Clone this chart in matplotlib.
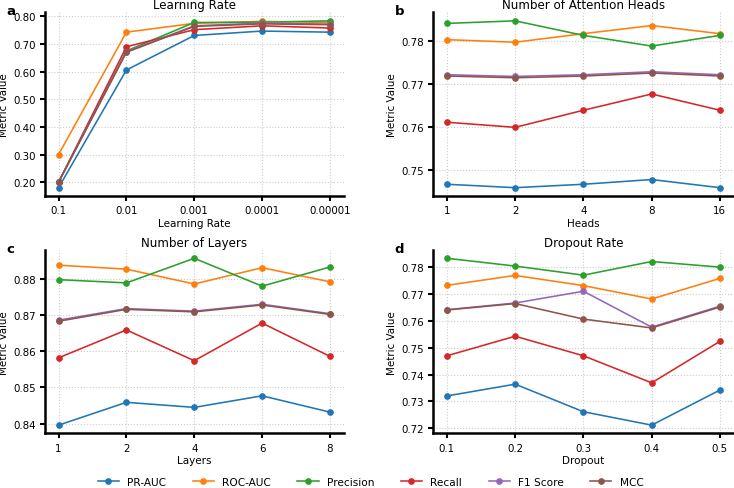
import matplotlib
matplotlib.use("Agg")
import matplotlib.pyplot as plt
from matplotlib.ticker import FormatStrFormatter

metrics = ["PR-AUC", "ROC-AUC", "Precision", "Recall", "F1 Score", "MCC"]
colors = ["#1f77b4", "#ff7f0e", "#2ca02c", "#d62728", "#9467bd", "#8c564b"]

lr_labels = ["0.1", "0.01", "0.001", "0.0001", "0.00001"]
lr_pr = [0.18, 0.606, 0.731, 0.747, 0.743]
lr_roc = [0.30, 0.743, 0.775, 0.782, 0.778]
lr_prec = [0.20, 0.675, 0.778, 0.779, 0.784]
lr_rec = [0.20, 0.690, 0.752, 0.766, 0.758]
lr_f1 = [0.20, 0.672, 0.766, 0.776, 0.772]
lr_mcc = [0.20, 0.670, 0.764, 0.773, 0.770]

head_labels = ["1", "2", "4", "8", "16"]
hd_pr = [0.7466, 0.7458, 0.7466, 0.7477, 0.7458]
hd_roc = [0.7804, 0.7798, 0.7818, 0.7837, 0.7818]
hd_prec = [0.7842, 0.7848, 0.7814, 0.7789, 0.7814]
hd_rec = [0.7611, 0.7599, 0.7639, 0.7677, 0.7639]
hd_f1 = [0.7722, 0.7718, 0.7722, 0.7729, 0.7722]
hd_mcc = [0.7719, 0.7715, 0.7719, 0.7726, 0.7719]

layer_labels = ["1", "2", "4", "6", "8"]
ly_pr = [0.8396, 0.8459, 0.8445, 0.8477, 0.8432]
ly_roc = [0.8838, 0.8827, 0.8786, 0.8831, 0.8792]
ly_prec = [0.8798, 0.8789, 0.8857, 0.8780, 0.8833]
ly_rec = [0.8582, 0.8659, 0.8574, 0.8678, 0.8586]
ly_f1 = [0.8686, 0.8718, 0.8711, 0.8730, 0.8704]
ly_mcc = [0.8683, 0.8716, 0.8709, 0.8728, 0.8702]

drop_labels = ["0.1", "0.2", "0.3", "0.4", "0.5"]
dr_pr = [0.7320, 0.7364, 0.7261, 0.7211, 0.7342]
dr_roc = [0.7733, 0.7770, 0.7732, 0.7682, 0.7759]
dr_prec = [0.7834, 0.7805, 0.7771, 0.7822, 0.7801]
dr_rec = [0.7470, 0.7543, 0.7470, 0.7369, 0.7524]
dr_f1 = [0.7642, 0.7667, 0.7711, 0.7577, 0.7655]
dr_mcc = [0.7641, 0.7665, 0.7607, 0.7574, 0.7652]

panels = [
    ("a", "Learning Rate", "Learning Rate", lr_labels,
     [lr_pr, lr_roc, lr_prec, lr_rec, lr_f1, lr_mcc], [0.2, 0.3, 0.4, 0.5, 0.6, 0.7, 0.8]),
    ("b", "Number of Attention Heads", "Heads", head_labels,
     [hd_pr, hd_roc, hd_prec, hd_rec, hd_f1, hd_mcc], [0.75, 0.76, 0.77, 0.78]),
    ("c", "Number of Layers", "Layers", layer_labels,
     [ly_pr, ly_roc, ly_prec, ly_rec, ly_f1, ly_mcc], [0.84, 0.85, 0.86, 0.87, 0.88]),
    ("d", "Dropout Rate", "Dropout", drop_labels,
     [dr_pr, dr_roc, dr_prec, dr_rec, dr_f1, dr_mcc], [0.72, 0.73, 0.74, 0.75, 0.76, 0.77, 0.78]),
]

plt.rcParams['font.family'] = ['DejaVu Sans']
fig = plt.figure(figsize=(7.34, 4.89), dpi=100)
positions = [
    [0.0613, 0.5971, 0.4067, 0.3753],
    [0.5903, 0.5971, 0.4091, 0.3753],
    [0.0613, 0.1115, 0.4067, 0.3753],
    [0.5903, 0.1115, 0.4091, 0.3753],
]

handles = []
for i, (lab, title, xlabel, xt, series, yt) in enumerate(panels):
    ax = fig.add_axes(positions[i])
    xs = list(range(len(xt)))
    for j, vals in enumerate(series):
        h, = ax.plot(xs, vals, color=colors[j], marker="o", markersize=3.8,
                     linewidth=1.15, label=metrics[j])
        if i == 0:
            handles.append(h)
    ax.set_xticks(xs)
    ax.set_xticklabels(xt)
    ax.set_yticks(yt)
    ax.yaxis.set_major_formatter(FormatStrFormatter("%.2f"))
    ax.set_title(title, fontsize=8.6, pad=3)
    ax.set_xlabel(xlabel, fontsize=7.5, labelpad=2)
    ax.set_ylabel("Metric Value", fontsize=7.4, labelpad=3)
    ax.tick_params(axis="both", labelsize=7.4, width=1.5, length=3.5, direction="out", pad=3)
    for s in ["top", "right"]:
        ax.spines[s].set_visible(False)
    for s in ["left", "bottom"]:
        ax.spines[s].set_linewidth(1.8)
    ax.grid(True, linestyle=":", color="#cccccc", linewidth=0.8)
    ax.set_axisbelow(True)
    ax.text(-0.128, 1.01, lab, transform=ax.transAxes,
            fontsize=9.5, fontweight="bold", va="center", ha="left")

fig.legend(handles=handles, labels=metrics, loc="center", bbox_to_anchor=(0.505, 0.012),
           ncol=6, frameon=False, fontsize=7.6, handlelength=2, columnspacing=2.5,
           borderaxespad=0)

fig.savefig("out.png", dpi=100)
